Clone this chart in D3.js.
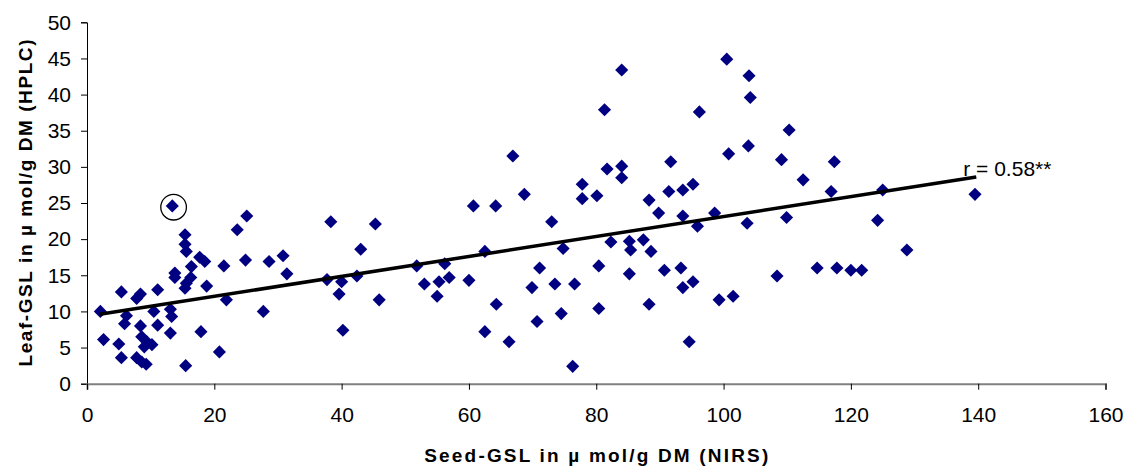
<!DOCTYPE html>
<html><head><meta charset="utf-8">
<script src="https://cdn.jsdelivr.net/npm/d3@7/dist/d3.min.js"></script>
<style>
html,body{margin:0;padding:0;background:#fff;}
svg{display:block;font-family:"Liberation Sans",Arial,sans-serif;}
</style></head>
<body>
<svg id="chart" width="1130" height="471"></svg>
<script>
const seedGSL = [
 13.4,25.1,23.6,15.4,15.4,15.6,17.7,18.5,30.8,28.6,24.9,21.5,16.4,31.4,13.8,13.8,16.3,15.6,15.4,18.8,
 5.4,8.4,7.8,11.1,21.9,2.1,10.5,13.1,13.3,27.7,6.2,5.9,11.1,8.4,2.6,8.6,13.1,17.9,5.0,9.4,
 10.2,9.0,20.8,5.4,7.8,8.6,9.3,15.5,
 38.3,45.3,43.0,37.7,40.0,42.4,39.6,45.9,40.2,51.8,56.2,53.0,55.3,56.9,55.0,60.0,62.5,60.7,64.2,66.9,
 68.7,73.0,74.8,71.1,69.9,73.5,76.6,64.3,62.5,66.3,70.7,74.5,76.3,
 100.5,104.0,104.2,84.0,81.3,96.2,110.3,100.8,103.9,91.7,109.1,117.4,81.7,84.0,84.0,77.8,77.8,80.1,112.5,95.2,
 93.6,91.4,88.3,116.9,89.8,93.6,98.6,95.9,103.7,109.9,82.3,85.2,85.4,87.4,88.6,80.4,85.2,90.7,93.3,93.6,
 95.2,108.4,114.7,117.8,120.0,121.7,80.4,88.3,99.3,101.5,94.6,
 125.0,124.2,128.8,139.5
];
const leafGSL = [
 24.6,23.2,21.3,20.6,19.3,18.3,17.5,16.9,17.7,16.9,17.1,16.3,16.2,15.2,15.3,14.7,14.7,13.9,13.2,13.5,
 12.7,12.4,11.8,13.0,11.6,10.0,10.0,10.3,9.3,10.0,9.4,8.3,8.1,8.0,6.1,6.5,7.0,7.2,5.5,5.8,
 5.4,5.1,4.4,3.6,3.6,3.0,2.7,2.5,
 22.4,22.1,18.6,14.4,14.1,14.9,12.4,11.6,7.4,16.3,16.6,13.8,14.1,14.7,12.1,14.3,18.3,24.6,24.6,31.5,
 26.2,22.4,18.7,16.0,13.3,13.8,13.8,11.0,7.2,5.8,8.6,9.7,2.4,
 44.9,42.6,39.6,43.4,37.9,37.6,35.1,31.8,32.9,30.7,31.0,30.7,29.7,30.1,28.5,27.6,25.6,26.0,28.2,27.6,
 26.8,26.6,25.4,26.6,23.6,23.2,23.6,21.8,22.2,23.0,19.6,19.7,18.5,19.9,18.3,16.3,15.2,15.7,16.0,13.3,
 14.1,14.9,16.0,16.0,15.7,15.7,10.4,11.0,11.6,12.1,5.8,
 26.8,22.6,18.5,26.2
];
const trendX = [2.0, 139.7];
const trendY = [9.6, 28.6];
const highlighted = [13.4, 24.6];
const xTicks = [0,20,40,60,80,100,120,140,160];
const yTicks = [0,5,10,15,20,25,30,35,40,45,50];
const corrLabel = "r = 0.58**";
const xTitle = "Seed-GSL in  \u00b5  mol/g DM (NIRS)";
const yTitle = "Leaf-GSL in  \u00b5  mol/g DM (HPLC)";

const svg = d3.select("#chart");
const L = 87, R = 1105.5, T = 22.3, B = 383.7;
const x = d3.scaleLinear().domain([0,160]).range([L,R]);
const y = d3.scaleLinear().domain([0,50]).range([B,T]);
const FONT = "'Liberation Sans',Arial,sans-serif";

// y axis
const ya = svg.append("g").attr("transform",`translate(${L},0)`)
  .call(d3.axisLeft(y).tickValues(yTicks).tickSize(6).tickPadding(10));
ya.select(".domain").attr("stroke","#000").attr("stroke-width",1);
ya.selectAll(".tick line").attr("stroke","#000");
ya.selectAll(".tick text").attr("font-size",21).attr("fill","#000").attr("font-family",FONT);

// x axis
const xa = svg.append("g").attr("transform",`translate(0,${B})`)
  .call(d3.axisBottom(x).tickValues(xTicks).tickSize(6).tickPadding(17));
xa.select(".domain").attr("stroke","#808080").attr("stroke-width",2);
xa.selectAll(".tick line").attr("stroke","#000");
xa.selectAll(".tick text").attr("font-size",21).attr("fill","#000").attr("font-family",FONT);

// points
const diamond = d3.symbol().type(d3.symbolSquare).size(86);
svg.append("g").selectAll("path").data(d3.range(seedGSL.length)).join("path")
  .attr("d", diamond)
  .attr("transform", i => `translate(${x(seedGSL[i])},${y(leafGSL[i])}) rotate(45)`)
  .attr("fill","#000080");

// trend line
svg.append("line")
  .attr("x1",x(trendX[0])).attr("y1",y(trendY[0]))
  .attr("x2",x(trendX[1])).attr("y2",y(trendY[1]))
  .attr("stroke","#000").attr("stroke-width",3.5);

// highlight circle
svg.append("circle")
  .attr("cx",x(highlighted[0])+1.3).attr("cy",y(highlighted[1])+1.3).attr("r",12.8)
  .attr("fill","none").attr("stroke","#000").attr("stroke-width",1.3);

// r label
svg.append("text").attr("x",x(trendX[1])-13).attr("y",y(trendY[1])-1)
  .attr("font-size",21).attr("fill","#000").text(corrLabel);

// axis titles
svg.append("text").attr("x",(L+R)/2).attr("y",461.5).attr("text-anchor","middle")
  .attr("font-size",19).attr("font-weight","bold").attr("fill","#000")
  .attr("textLength",344).attr("lengthAdjust","spacing").text(xTitle);
svg.append("text").attr("transform",`translate(32,${(T+B)/2}) rotate(-90)`)
  .attr("text-anchor","middle")
  .attr("font-size",19).attr("font-weight","bold").attr("fill","#000")
  .attr("textLength",327).attr("lengthAdjust","spacing").text(yTitle);
</script>
</body></html>
